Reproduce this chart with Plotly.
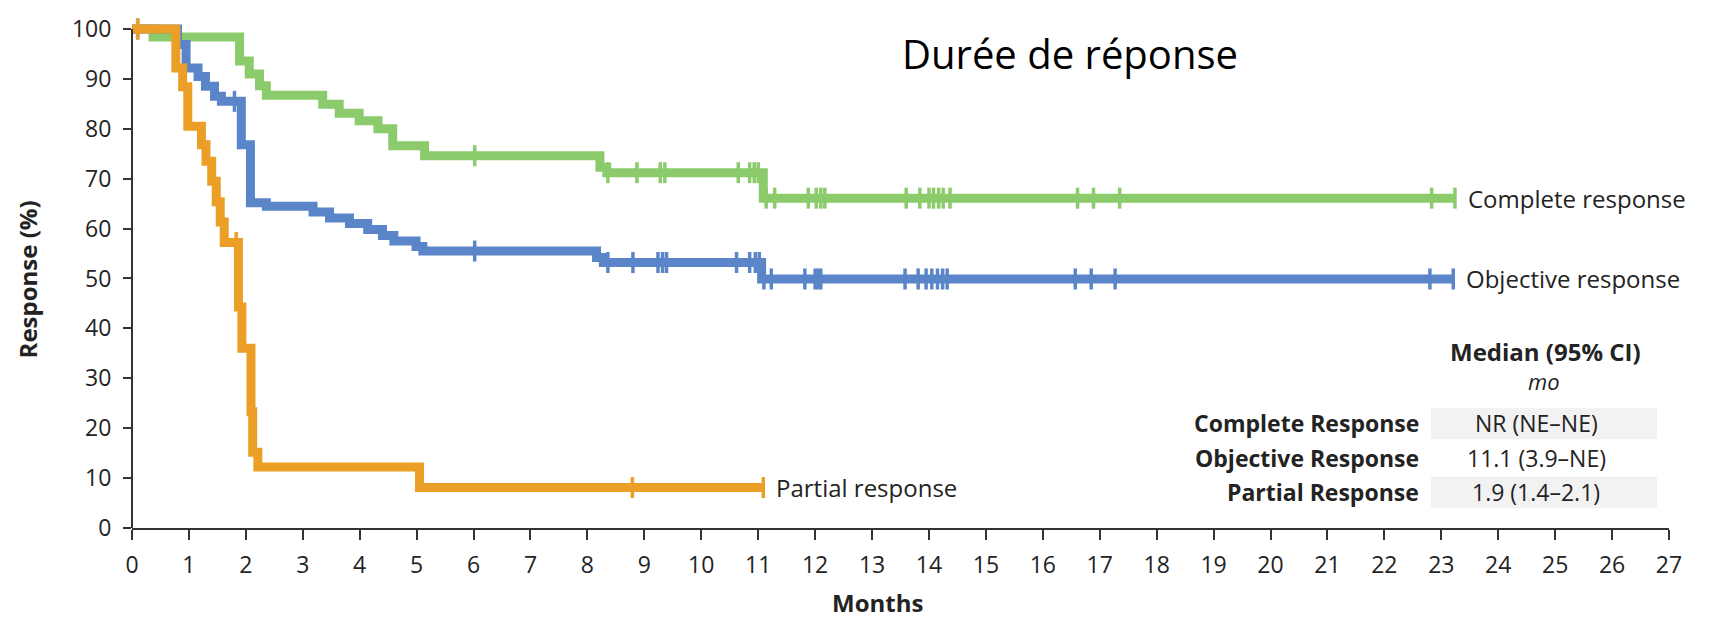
import plotly.graph_objects as go

# ---------------- data ----------------
# Complete response (green)
cr_times = [0, 0.37, 1.89, 2.06, 2.24, 2.36, 3.35, 3.64, 3.99, 4.32, 4.58, 5.14, 8.22, 8.34, 11.09]
cr_surv = [100, 98.4, 93.6, 91.0, 88.6, 86.7, 84.9, 83.1, 81.6, 80.0, 76.6, 74.6, 72.3, 71.2, 66.1]
cr_end = 23.24
cr_censor = [6.02, 8.36, 8.87, 9.28, 9.36, 10.65, 10.85, 10.93, 11.0, 11.14, 11.29, 11.88, 12.02,
             12.1, 12.17, 13.6, 13.84, 14.0, 14.08, 14.17, 14.25, 14.37, 16.61, 16.89, 17.35,
             22.83, 23.24]

# Objective response (blue)
or_times = [0, 0.80, 0.95, 1.16, 1.29, 1.45, 1.57, 1.92, 2.08, 2.36, 3.18, 3.47, 3.82, 4.14,
            4.40, 4.60, 4.99, 5.11, 8.16, 8.28, 11.06]
or_surv = [100, 96.9, 92.2, 90.5, 88.5, 86.5, 85.5, 76.8, 65.2, 64.5, 63.3, 62.1, 61.0, 59.8,
           58.6, 57.5, 56.4, 55.5, 54.2, 53.2, 49.9]
or_end = 23.21
or_censor = [0.1, 1.8, 6.02, 8.36, 8.8, 9.24, 9.32, 9.39, 10.62, 10.85, 10.95, 11.02, 11.1, 11.23,
             11.82, 12.0, 12.05, 12.1, 13.58, 13.81, 13.95, 14.05, 14.15, 14.24, 14.32, 16.57,
             16.85, 17.27, 22.8, 23.21]

# Partial response (orange)
pr_times = [0, 0.77, 0.89, 0.98, 1.22, 1.30, 1.40, 1.48, 1.55, 1.62, 1.87, 1.93, 2.09, 2.12, 2.21, 5.05]
pr_surv = [100, 92.2, 88.4, 80.5, 76.8, 73.5, 69.5, 65.4, 61.3, 57.2, 44.3, 36.0, 23.3, 15.2, 12.2, 8.1]
pr_end = 11.09
pr_censor = [0.1, 1.83, 8.79, 11.09]

x_ticks = list(range(0, 28))
y_ticks = list(range(0, 101, 10))

table_rows = ["Complete Response", "Objective Response", "Partial Response"]
table_vals = ["NR (NE\u2013NE)", "11.1 (3.9\u2013NE)", "1.9 (1.4\u20132.1)"]

GREEN = "#8BCB6B"
BLUE = "#5A85C8"
ORANGE = "#EC9F27"
TXT = "#232323"
AX = "#333333"
FONT = "Open Sans"

# ---------------- layout geometry ----------------
W, H = 1717, 623
ML, MR, MT, MB = 132, 48, 12, 95
PW, PH = W - ML - MR, H - MT - MB


def px(x):
    return (x - ML) / PW


def py(y):
    return (H - MB - y) / PH


def level_at(times, surv, t):
    lv = surv[0]
    for ti, si in zip(times, surv):
        if ti <= t:
            lv = si
    return lv


fig = go.Figure()

series = [
    ("Complete response", cr_times, cr_surv, cr_end, cr_censor, GREEN),
    ("Objective response", or_times, or_surv, or_end, or_censor, BLUE),
    ("Partial response", pr_times, pr_surv, pr_end, pr_censor, ORANGE),
]

for name, t, s, end, cens, col in series:
    fig.add_trace(go.Scatter(
        x=t + [end], y=s + [s[-1]], mode="lines",
        line=dict(color=col, width=9, shape="hv"), name=name, hoverinfo="skip"))
    fig.add_trace(go.Scatter(
        x=cens, y=[level_at(t, s, c) for c in cens], mode="markers",
        marker=dict(symbol="line-ns", size=15, line=dict(color=col, width=3.5)),
        name=name + " censored", hoverinfo="skip", cliponaxis=False))

annotations = []
for name, t, s, end, cens, col in series:
    annotations.append(dict(x=end, y=s[-1], xref="x", yref="y", text=name, showarrow=False,
                            xanchor="left", yanchor="middle", xshift=11,
                            font=dict(family=FONT, size=24, color=TXT)))

# title
annotations.append(dict(x=px(1070), y=py(47), xref="paper", yref="paper", text="Durée de réponse",
                        showarrow=False, xanchor="center", yanchor="middle",
                        font=dict(family=FONT, size=40, color="#000000")))
# axis titles
annotations.append(dict(x=px(27), y=py(276), xref="paper", yref="paper", text="<b>Response (%)</b>",
                        showarrow=False, textangle=-90, xanchor="center", yanchor="middle",
                        font=dict(family=FONT, size=24, color=TXT)))
annotations.append(dict(x=px(877), y=py(604), xref="paper", yref="paper", text="<b>Months</b>",
                        showarrow=False, xanchor="center", yanchor="middle",
                        font=dict(family=FONT, size=24, color=TXT)))
# table header
annotations.append(dict(x=px(1545), y=py(349), xref="paper", yref="paper", text="<b>Median (95% CI)</b>",
                        showarrow=False, xanchor="center", yanchor="middle",
                        font=dict(family=FONT, size=24, color=TXT)))
annotations.append(dict(x=px(1544), y=py(379), xref="paper", yref="paper", text="<i>mo</i>",
                        showarrow=False, xanchor="center", yanchor="middle",
                        font=dict(family=FONT, size=22, color=TXT)))

shapes = [dict(type="line", xref="paper", yref="y", x0=0, x1=0, y0=0, y1=100,
               line=dict(color=AX, width=2))]

row_y = [422, 457, 492]
for i, (lab, val) in enumerate(zip(table_rows, table_vals)):
    if i != 1:
        shapes.append(dict(type="rect", xref="paper", yref="paper", x0=px(1431), x1=px(1657),
                           y0=py(row_y[i] + 16), y1=py(row_y[i] - 16),
                           line=dict(width=0), fillcolor="#F2F2F2", layer="below"))
    annotations.append(dict(x=px(1421), y=py(row_y[i]), xref="paper", yref="paper", text="<b>" + lab + "</b>",
                            showarrow=False, xanchor="right", yanchor="middle",
                            font=dict(family=FONT, size=23, color=TXT)))
    annotations.append(dict(x=px(1536), y=py(row_y[i]), xref="paper", yref="paper", text=val,
                            showarrow=False, xanchor="center", yanchor="middle",
                            font=dict(family=FONT, size=23, color=TXT)))

fig.update_layout(
    width=W, height=H, margin=dict(l=ML, r=MR, t=MT, b=MB),
    plot_bgcolor="white", paper_bgcolor="white", showlegend=False,
    font=dict(family=FONT, color=TXT),
    annotations=annotations, shapes=shapes,
    xaxis=dict(range=[0, 27], tickvals=x_ticks, ticktext=[str(v) for v in x_ticks],
               ticks="outside", ticklen=10, tickwidth=2, tickcolor=AX,
               showline=True, linewidth=2, linecolor=AX, showgrid=False, zeroline=False,
               tickfont=dict(family=FONT, size=23, color=TXT), ticklabelstandoff=5),
    yaxis=dict(range=[0, 102], tickvals=y_ticks, ticktext=[str(v) for v in y_ticks],
               ticks="outside", ticklen=8, tickwidth=2, tickcolor=AX,
               showline=False, showgrid=False, zeroline=False,
               tickfont=dict(family=FONT, size=23, color=TXT), ticklabelstandoff=7),
)

fig.write_html("out.html")
